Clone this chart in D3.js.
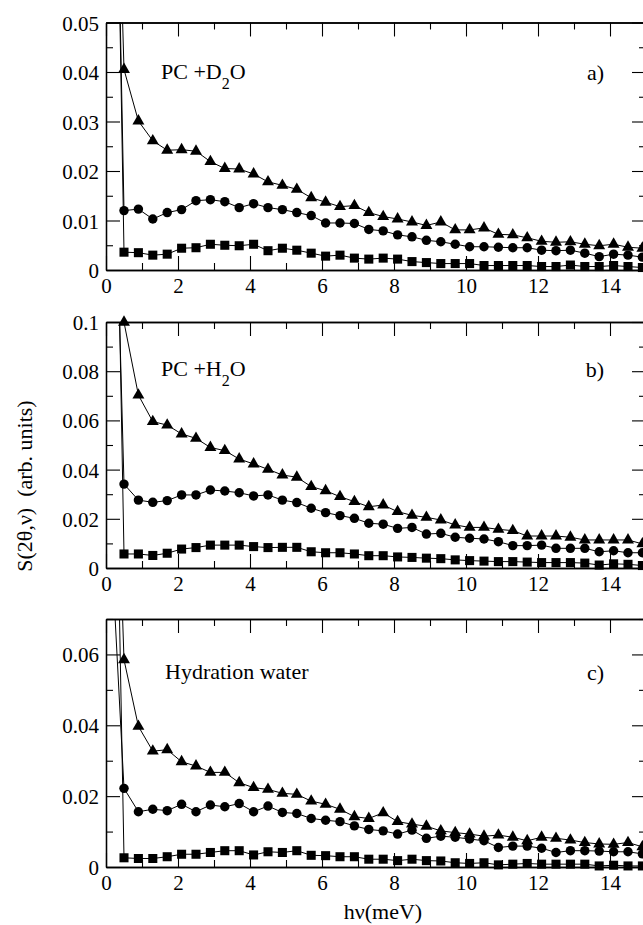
<!DOCTYPE html>
<html>
<head>
<meta charset="utf-8">
<script src="https://cdn.jsdelivr.net/npm/d3@7/dist/d3.min.js"></script>
<style>
  body { margin: 0; background: #fff; }
  svg text { font-family: "Liberation Serif", "Times New Roman", serif !important; fill: #000; }
</style>
</head>
<body>
<div id="chart"></div>
<script>
// energy transfer (meV); first point is the elastic peak, off the top of every panel
var hv = [0.1, 0.5, 0.9, 1.3, 1.7, 2.1, 2.5, 2.9, 3.3, 3.7, 4.1, 4.5, 4.9, 5.3, 5.7, 6.1, 6.5, 6.9, 7.3,
  7.7, 8.1, 8.5, 8.9, 9.3, 9.7, 10.1, 10.5, 10.9, 11.3, 11.7, 12.1, 12.5, 12.9, 13.3, 13.7, 14.1, 14.5, 14.9];

// a) PC + D2O
var d2oTri = [0.14, 0.0405, 0.0301, 0.0261, 0.0242, 0.0243, 0.024, 0.0219, 0.0205, 0.0204, 0.0194, 0.0178,
  0.0171, 0.0163, 0.0146, 0.0137, 0.0128, 0.013, 0.0116, 0.0108, 0.0103, 0.0097, 0.009, 0.0097, 0.0081,
  0.0081, 0.0085, 0.0072, 0.0071, 0.0065, 0.0058, 0.0056, 0.0057, 0.0052, 0.0049, 0.0052, 0.0046, 0.0044];
var d2oCirc = [0.16, 0.012, 0.0123, 0.0103, 0.0116, 0.0122, 0.014, 0.0142, 0.0138, 0.0126, 0.0134, 0.0126,
  0.0122, 0.0116, 0.011, 0.0095, 0.0095, 0.0094, 0.0082, 0.0079, 0.0071, 0.0067, 0.006, 0.0057, 0.0052,
  0.0047, 0.0047, 0.0046, 0.0045, 0.0045, 0.004, 0.0039, 0.004, 0.0034, 0.0027, 0.0032, 0.003, 0.0026];
var d2oSq = [0.17, 0.0036, 0.0035, 0.003, 0.0032, 0.0044, 0.0045, 0.0052, 0.005, 0.0049, 0.0052, 0.0039,
  0.0044, 0.004, 0.0034, 0.0028, 0.003, 0.0024, 0.0022, 0.0024, 0.0022, 0.0017, 0.0015, 0.0013, 0.0013,
  0.0013, 0.0009, 0.0009, 0.0009, 0.0009, 0.0007, 0.0007, 0.001, 0.0007, 0.0007, 0.0009, 0.0007, 0.0005];

// b) PC + H2O
var h2oTri = [0.3, 0.0999, 0.0703, 0.0595, 0.0581, 0.0545, 0.0527, 0.049, 0.0477, 0.0443, 0.0423, 0.0401,
  0.0378, 0.0369, 0.0331, 0.0314, 0.029, 0.027, 0.0249, 0.0256, 0.0229, 0.0214, 0.0206, 0.0195, 0.0175,
  0.0165, 0.0165, 0.0157, 0.0152, 0.013, 0.013, 0.013, 0.0125, 0.0114, 0.0114, 0.0114, 0.0114, 0.0098];
var h2oCirc = [0.25, 0.0341, 0.0276, 0.0267, 0.0274, 0.0297, 0.0297, 0.0317, 0.0313, 0.0306, 0.0293, 0.0297,
  0.0276, 0.0266, 0.0243, 0.0225, 0.0213, 0.0202, 0.0182, 0.0178, 0.0161, 0.0165, 0.0138, 0.0141, 0.0125,
  0.0121, 0.0118, 0.0107, 0.0091, 0.0091, 0.0093, 0.008, 0.008, 0.008, 0.0066, 0.007, 0.0062, 0.0062];
var h2oSq = [0.32, 0.0057, 0.0057, 0.0051, 0.006, 0.0077, 0.0083, 0.0093, 0.0093, 0.0093, 0.0087, 0.0083,
  0.0084, 0.0084, 0.0066, 0.0062, 0.0062, 0.0057, 0.005, 0.005, 0.0045, 0.0043, 0.004, 0.0038, 0.0033,
  0.003, 0.0028, 0.0026, 0.0026, 0.0024, 0.0022, 0.0022, 0.0022, 0.002, 0.0012, 0.0017, 0.0015, 0.001];

// c) hydration water
var hydTri = [0.18, 0.0585, 0.0397, 0.0327, 0.0331, 0.0297, 0.0285, 0.0267, 0.0267, 0.0238, 0.0224, 0.0219,
  0.0208, 0.0205, 0.0186, 0.0177, 0.0163, 0.0142, 0.0137, 0.0153, 0.0128, 0.0121, 0.0115, 0.0102, 0.0097,
  0.0093, 0.0087, 0.009, 0.0084, 0.0074, 0.0084, 0.0081, 0.0076, 0.0069, 0.0065, 0.0064, 0.0069, 0.0057];
var hydCirc = [0.1, 0.0222, 0.0156, 0.0163, 0.0159, 0.0177, 0.0156, 0.0175, 0.017, 0.0179, 0.0156, 0.0172,
  0.0154, 0.0151, 0.0137, 0.0132, 0.0128, 0.0116, 0.0106, 0.0102, 0.0093, 0.0104, 0.0081, 0.0087, 0.0084,
  0.0079, 0.0074, 0.0055, 0.0059, 0.0059, 0.0053, 0.0041, 0.0046, 0.0046, 0.0045, 0.0043, 0.0043, 0.0037];
var hydSq = [0.22, 0.0026, 0.0024, 0.0024, 0.0029, 0.0036, 0.0036, 0.0041, 0.0046, 0.0046, 0.0034, 0.0043,
  0.0041, 0.0046, 0.0033, 0.0032, 0.0029, 0.0029, 0.0022, 0.0022, 0.0018, 0.0022, 0.0018, 0.0017, 0.0012,
  0.001, 0.0012, 0.0006, 0.0008, 0.001, 0.0008, 0.0008, 0.0008, 0.0008, 0.0003, 0.0005, 0.0003, 0.0003];

var xTicks = [0, 2, 4, 6, 8, 10, 12, 14];
var yTicksA = [0, 0.01, 0.02, 0.03, 0.04, 0.05];
var yTicksB = [0, 0.02, 0.04, 0.06, 0.08, 0.1];
var yTicksC = [0, 0.02, 0.04, 0.06];

var W = 643, H = 925;
var left = 106, right = 646;
var serif = '"Liberation Serif", "Times New Roman", serif';

var panels = [
  { top: 22.5, bottom: 270, ymax: 0.05, ticks: yTicksA, minorStep: 0.005, series: [d2oTri, d2oCirc, d2oSq],
    name: ["PC +D", "2", "O"], tag: "a)", nameY: 79 },
  { top: 322, bottom: 568, ymax: 0.1, ticks: yTicksB, minorStep: 0.01, series: [h2oTri, h2oCirc, h2oSq],
    name: ["PC +H", "2", "O"], tag: "b)", nameY: 376 },
  { top: 619, bottom: 867, ymax: 0.07, ticks: yTicksC, minorStep: 0.01, series: [hydTri, hydCirc, hydSq],
    name: ["Hydration water"], tag: "c)", nameY: 679 }
];

var svg = d3.select("#chart")
  .append("svg")
  .attr("width", W)
  .attr("height", H);

var x = d3.scaleLinear().domain([0, 15]).range([left, right]);
var xMinor = d3.range(1, 16, 2);
var fmt = d3.format("~g");

var shapes = [d3.symbolTriangle, d3.symbolCircle, d3.symbolSquare];
var sizes = [62, 70, 82];

panels.forEach(function (p, pi) {
  var y = d3.scaleLinear().domain([0, p.ymax]).range([p.bottom, p.top]);
  var yMinor = d3.range(p.minorStep, p.ymax + 1e-9, p.minorStep)
    .filter(function (v) { return p.ticks.every(function (t) { return Math.abs(t - v) > 1e-9; }); });
  var g = svg.append("g");

  var frame = function (sel) {
    sel.attr("font-family", null).attr("font-size", null);
    sel.selectAll(".domain").attr("stroke", "#000").attr("stroke-width", 1.3);
    sel.selectAll(".tick line").attr("stroke", "#000").attr("stroke-width", 1.1);
    sel.selectAll("text").style("font-size", "21px").style("font-family", serif);
  };

  // bottom
  g.append("g").attr("transform", "translate(0," + p.bottom + ")")
    .call(d3.axisBottom(x).tickValues(xTicks).tickFormat(fmt).tickSizeInner(-14).tickSizeOuter(0).tickPadding(8))
    .call(frame);
  g.append("g").attr("transform", "translate(0," + p.bottom + ")")
    .call(d3.axisBottom(x).tickValues(xMinor).tickFormat("").tickSizeInner(-7).tickSizeOuter(0))
    .call(frame);
  // top
  g.append("g").attr("transform", "translate(0," + p.top + ")")
    .call(d3.axisTop(x).tickValues(xTicks).tickFormat("").tickSizeInner(-14).tickSizeOuter(0))
    .call(frame);
  g.append("g").attr("transform", "translate(0," + p.top + ")")
    .call(d3.axisTop(x).tickValues(xMinor).tickFormat("").tickSizeInner(-7).tickSizeOuter(0))
    .call(frame);
  // left
  g.append("g").attr("transform", "translate(" + left + ",0)")
    .call(d3.axisLeft(y).tickValues(p.ticks).tickFormat(fmt).tickSizeInner(-14).tickSizeOuter(0).tickPadding(7))
    .call(frame)
    .selectAll("text").attr("dy", "0.36em");
  g.append("g").attr("transform", "translate(" + left + ",0)")
    .call(d3.axisLeft(y).tickValues(yMinor).tickFormat("").tickSizeInner(-7).tickSizeOuter(0))
    .call(frame);
  // right
  g.append("g").attr("transform", "translate(" + right + ",0)")
    .call(d3.axisRight(y).tickValues(p.ticks).tickFormat("").tickSizeInner(-14).tickSizeOuter(0))
    .call(frame);
  g.append("g").attr("transform", "translate(" + right + ",0)")
    .call(d3.axisRight(y).tickValues(yMinor).tickFormat("").tickSizeInner(-7).tickSizeOuter(0))
    .call(frame);

  svg.append("clipPath").attr("id", "clip" + pi)
    .append("rect")
    .attr("x", left).attr("y", p.top)
    .attr("width", right - left).attr("height", p.bottom - p.top);

  var line = d3.line()
    .x(function (d, i) { return x(hv[i]); })
    .y(function (d) { return y(d); });

  p.series.forEach(function (s, si) {
    g.append("path")
      .datum(s)
      .attr("fill", "none")
      .attr("stroke", "#000")
      .attr("stroke-width", 1)
      .attr("clip-path", "url(#clip" + pi + ")")
      .attr("d", line);

    var pts = s.map(function (v, i) { return { x: hv[i], v: v }; })
      .filter(function (d) { return d.v <= p.ymax; });
    g.selectAll(null)
      .data(pts)
      .enter()
      .append("path")
      .attr("transform", function (d) { return "translate(" + x(d.x) + "," + y(d.v) + ")"; })
      .attr("d", d3.symbol().type(shapes[si]).size(sizes[si]))
      .attr("fill", "#000");
  });

  // sample name, with subscript 2 where needed
  var t = g.append("text")
    .attr("x", pi == 2 ? 165 : 161)
    .attr("y", p.nameY)
    .style("font-size", "22px");
  t.append("tspan").text(p.name[0]);
  if (p.name.length > 1) {
    t.append("tspan").style("font-size", "16px").attr("dy", 10).text(p.name[1]);
    t.append("tspan").attr("dy", -10).text(p.name[2]);
  }

  g.append("text")
    .attr("x", 604)
    .attr("y", p.nameY + 1)
    .attr("text-anchor", "end")
    .style("font-size", "22px")
    .text(p.tag);
});

svg.append("text")
  .attr("transform", "translate(32,486) rotate(-90)")
  .attr("text-anchor", "middle")
  .style("font-size", "22px")
  .style("white-space", "pre")
  .text("S(2θ,ν)  (arb. units)");

svg.append("text")
  .attr("x", 383)
  .attr("y", 919)
  .attr("text-anchor", "middle")
  .style("font-size", "22px")
  .text("hν(meV)");
</script>
</body>
</html>
